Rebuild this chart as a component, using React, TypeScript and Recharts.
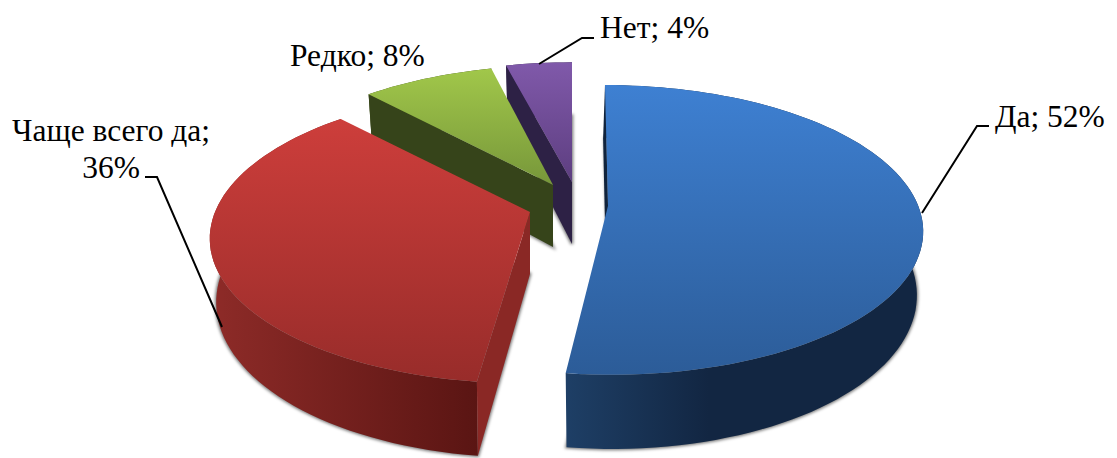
import { Pie, PieChart } from "recharts"

// Back-to-front order so nearer slices paint over farther ones
const sliceNames = ["Нет", "Редко", "Чаще всего да", "Да"]
const sliceValues = [4, 8, 36, 52]

const chartData = sliceNames.map((name, i) => ({ name, value: sliceValues[i] }))

// Per-slice explosion and small fit-ups of the projected shape
const explodeX = [12, -7, -30, 48]
const explodeY = [-18, -15, 12, 6]
const shear = [0, 5, 5, -3.5]
const radiusScale = [0.975, 0.975, 1, 0.985]

const topColors = [
  ["#8059aa", "#5d3e80"],
  ["#a1c74a", "#77973a"],
  ["#cd3e3b", "#982c2a"],
  ["#3e80d2", "#2c5c98"],
]
const wallColors = [
  ["#2f2348", "#2b1f42"],
  ["#44541f", "#313e14"],
  ["#8e2b28", "#5a1513"],
  ["#1e3f66", "#122642"],
]
const cutColors = ["#2d2145", "#36441a", "#8a2825", "#10233c"]

// Leader lines, empty where the label has none
const leaderLines = [
  "539,64 582,38 594,38",
  "",
  "145,177 157,177 222,327",
  "922,213 977,126 989,126",
]
const labelX = [600, 290, 111, 995]
const labelY = [38, 66, 141, 127]

const PERSPECTIVE = 0.165
const TILT = 0.454
const DEPTH = 62
const BASE_SCALE = 0.98
const LABEL_FONT = "'Liberation Serif', 'Times New Roman', serif"

function project(p: any, i: number, deg: number, drop: boolean) {
  const r = p.outerRadius * radiusScale[i]
  const c = Math.cos((deg * Math.PI) / 180)
  const s = Math.sin((deg * Math.PI) / 180)
  const w = 1 + PERSPECTIVE * s
  const dx = ((r * c + shear[i] * s) / w) * (drop ? BASE_SCALE : 1)
  const dy = (-TILT * r * s) / w + (drop ? DEPTH / w : 0)
  return [p.cx + explodeX[i] + dx, p.cy + explodeY[i] + dy]
}

function rim(p: any, i: number, drop: boolean) {
  const pts = []
  const steps = Math.max(2, Math.ceil((p.endAngle - p.startAngle) / 2))
  for (let k = 0; k <= steps; k++) {
    pts.push(project(p, i, p.startAngle + ((p.endAngle - p.startAngle) * k) / steps, drop))
  }
  return pts
}

const toPath = (pts: number[][]) =>
  "M" + pts.map((q) => q[0].toFixed(1) + " " + q[1].toFixed(1)).join("L") + "Z"

function Slice3D(props: any) {
  const i = props.index
  const hub = [props.cx + explodeX[i], props.cy + explodeY[i]]
  const hubLow = [hub[0], hub[1] + DEPTH]
  const top = rim(props, i, false)
  const low = rim(props, i, true)
  const endTop = project(props, i, props.endAngle, false)
  const endLow = project(props, i, props.endAngle, true)
  // The closing cut only faces the viewer on the left half of the pie
  const showCut = Math.cos((props.endAngle * Math.PI) / 180) < 0.01
  const lean = i === 3 ? -2 : 0

  return (
    <g>
      <path
        d={toPath([hubLow, ...low])}
        fill="#000"
        fillOpacity={0.4}
        stroke="#000"
        strokeOpacity={0.4}
        strokeWidth={3}
        filter="url(#baseShadow)"
      />
      <path d={toPath([...top, ...[...low].reverse()])} fill={`url(#wall-${i})`} />
      {showCut && (
        <path
          d={toPath([
            endTop,
            hub,
            [hubLow[0] + lean, hubLow[1]],
            [endLow[0] + lean, endLow[1]],
          ])}
          fill={cutColors[i]}
        />
      )}
      <path d={toPath([hub, ...top])} fill={`url(#top-${i})`} />
    </g>
  )
}

function SliceLabel(props: any) {
  const i = props.index
  const text = { fontFamily: LABEL_FONT, fontSize: 31.5, fill: "#000" }
  return (
    <g>
      {leaderLines[i] && (
        <polyline points={leaderLines[i]} fill="none" stroke="#000" strokeWidth={2} />
      )}
      {i === 2 ? (
        <text x={labelX[i]} y={labelY[i]} textAnchor="middle" {...text}>
          <tspan x={labelX[i]}>{props.name};</tspan>
          <tspan x={labelX[i]} dy={37}>{props.value}%</tspan>
        </text>
      ) : (
        <text x={labelX[i]} y={labelY[i]} {...text}>
          {props.name}; {props.value}%
        </text>
      )}
    </g>
  )
}

export default function App() {
  return (
    <div style={{ position: "absolute", left: 0, top: 0, width: 1117, height: 458, background: "#fff" }}>
      <PieChart width={1117} height={458} margin={{ top: 0, right: 0, bottom: 0, left: 0 }}>
        <defs>
          <filter id="baseShadow" x="-10%" y="-10%" width="120%" height="120%">
            <feGaussianBlur stdDeviation="1.5" />
          </filter>
          {topColors.map((c, i) => (
            <linearGradient key={i} id={`top-${i}`} x1="0" y1="0" x2="0" y2="1">
              <stop offset="0%" stopColor={c[0]} />
              <stop offset="100%" stopColor={c[1]} />
            </linearGradient>
          ))}
          {wallColors.map((c, i) => (
            <linearGradient key={i} id={`wall-${i}`} x1="0" y1="0" x2="1" y2="0">
              <stop offset="0%" stopColor={c[0]} />
              <stop offset={i === 3 ? "40%" : "100%"} stopColor={c[1]} />
              <stop offset="100%" stopColor={c[1]} />
            </linearGradient>
          ))}
        </defs>
        <Pie
          data={chartData}
          dataKey="value"
          nameKey="name"
          cx={560}
          cy={200}
          outerRadius={315}
          startAngle={90}
          endAngle={450}
          shape={Slice3D}
          label={SliceLabel}
          labelLine={false}
          isAnimationActive={false}
        />
      </PieChart>
    </div>
  )
}
